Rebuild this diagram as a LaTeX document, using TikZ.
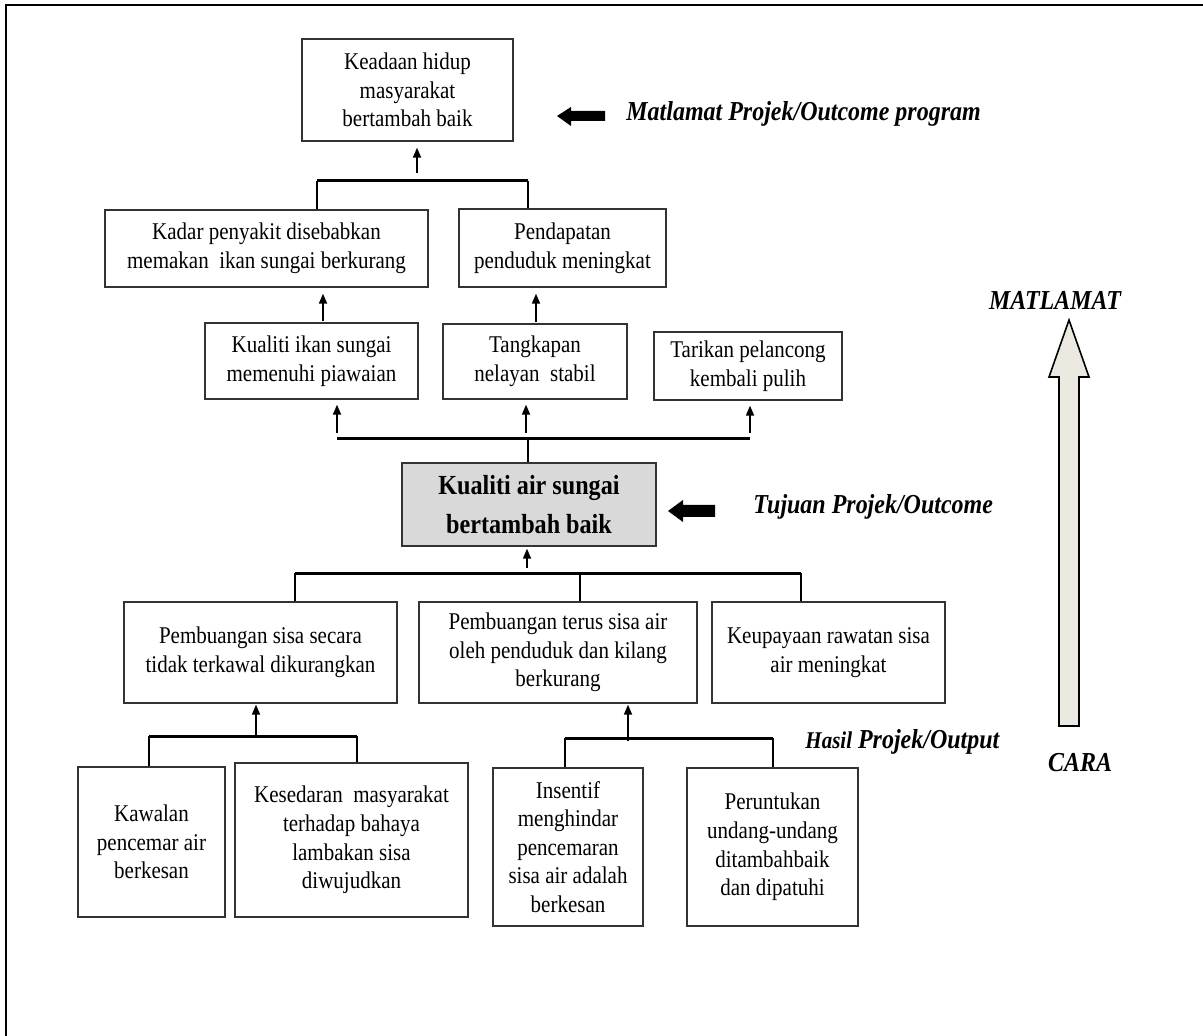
\documentclass[tikz,border=0pt]{standalone}
\usepackage{fontspec}
\setmainfont{Liberation Serif}[FakeStretch=0.875]
\usetikzlibrary{arrows.meta}
\begin{document}
\begin{tikzpicture}[x=0.5pt,y=-0.5pt,
  box/.style={draw=black!80, line width=0.65pt, align=center, inner sep=2pt,
              font=\fontsize{12}{14.3}\selectfont},
  core/.style={box, fill=black!15, font=\fontsize{13.8}{19.5}\selectfont\bfseries},
  link/.style={line width=0.85pt, -{Triangle[length=5pt,width=4pt]}},
  bar/.style={line width=1.5pt},
  leg/.style={line width=1pt},
  tag/.style={font=\fontsize{13.7}{15}\selectfont\bfseries\itshape, inner sep=0pt},
  blockfill/.style={fill=black},
  bigarrow/.style={draw=black, line width=0.8pt, fill={rgb,255:red,236;green,234;blue,224}},
]
\useasboundingbox (0,0) rectangle (1203,1036);

% frame
\draw[line width=1.1pt] (6,1036) -- (6,5) -- (1203,5);

% ---- goal level
\node[box, minimum width=105.5pt, minimum height=51pt] (goal) at (407.5,90)
  {Keadaan hidup\\masyarakat\\bertambah baik};
\node[box, minimum width=161.5pt, minimum height=38.5pt] (kadar) at (266.5,248.5)
  {Kadar penyakit disebabkan\\memakan\ \ ikan sungai berkurang};
\node[box, minimum width=103.5pt, minimum height=39pt] (pend) at (562.5,248)
  {Pendapatan\\penduduk meningkat};

% ---- intermediate results
\node[box, minimum width=106.5pt, minimum height=38pt] (kual) at (311.5,361)
  {Kualiti ikan sungai\\memenuhi piawaian};
\node[box, minimum width=92pt, minimum height=37.5pt] (tang) at (535,361.5)
  {Tangkapan\\nelayan\ \ stabil};
\node[box, minimum width=94pt, minimum height=34pt] (tari) at (748,366)
  {Tarikan pelancong\\kembali pulih};

% ---- purpose
\node[core, minimum width=127pt, minimum height=41.5pt] (core) at (529,504.5)
  {Kualiti air sungai\\bertambah baik};

% ---- outputs
\node[box, minimum width=136.5pt, minimum height=50.5pt] (pbs) at (260.5,652.5)
  {Pembuangan sisa secara\\tidak terkawal dikurangkan};
\node[box, minimum width=139pt, minimum height=50.5pt] (pbt) at (558,652.5)
  {Pembuangan terus sisa air\\oleh penduduk dan kilang\\berkurang};
\node[box, minimum width=116.5pt, minimum height=50.5pt] (keup) at (828.5,652.5)
  {Keupayaan rawatan sisa\\air meningkat};

% ---- activities
\node[box, minimum width=73.5pt, minimum height=75pt] (kawal) at (151.5,842)
  {Kawalan\\pencemar air\\berkesan};
\node[box, minimum width=116.5pt, minimum height=77pt] (sedar) at (351.5,840)
  {Kesedaran\ \ masyarakat\\terhadap bahaya\\lambakan sisa\\diwujudkan};
\node[box, minimum width=75pt, minimum height=79pt] (insen) at (568,847)
  {Insentif\\menghindar\\pencemaran\\sisa air adalah\\berkesan};
\node[box, minimum width=85.5pt, minimum height=79pt] (untuk) at (772.5,847)
  {Peruntukan\\undang-undang\\ditambahbaik\\dan dipatuhi};

% ---- connectors: goal level
\coordinate (t1) at (317,181);
\coordinate (t2) at (528,181);
\coordinate (tm) at (417,181);
\draw[bar] (t1) -- (t2);
\draw[leg] (t1) -- (t1 |- kadar.north);
\draw[leg] (t2) -- (t2 |- pend.north);
\draw[link, shorten <=4pt, shorten >=3pt] (tm) -- (tm |- goal.south);

\coordinate (k1) at (323,323);
\coordinate (k2) at (536,323);
\draw[link, shorten <=0.5pt, shorten >=3pt] (k1 |- kual.north) -- (k1 |- kadar.south);
\draw[link, shorten <=0.5pt, shorten >=3pt] (k2 |- tang.north) -- (k2 |- pend.south);

% ---- connectors: purpose to intermediate results
\coordinate (r1) at (337,439);
\coordinate (r2) at (526,439);
\coordinate (r3) at (750,439);
\coordinate (rc) at (528,439);
\draw[bar] (r1) -- (r3);
\draw[leg] (rc) -- (rc |- core.north);
\draw[link, shorten <=3pt, shorten >=2.5pt] (r1) -- (r1 |- kual.south);
\draw[link, shorten <=3pt, shorten >=2.5pt] (r2) -- (r2 |- tang.south);
\draw[link, shorten <=3pt, shorten >=2.5pt] (r3) -- (r3 |- tari.south);

% ---- connectors: outputs to purpose
\coordinate (c1) at (295,573);
\coordinate (c2) at (580,573);
\coordinate (c3) at (801,573);
\coordinate (cm) at (527,573);
\draw[bar] (c1) -- (c3);
\draw[leg] (c1) -- (c1 |- pbs.north);
\draw[leg] (c2) -- (c2 |- pbt.north);
\draw[leg] (c3) -- (c3 |- keup.north);
\draw[link, shorten <=2.5pt, shorten >=1pt] (cm) -- (cm |- core.south);

% ---- connectors: activities to outputs
\coordinate (l1) at (149,736);
\coordinate (l2) at (357,736);
\coordinate (lm) at (256,736);
\draw[bar] (l1) -- (l2);
\draw[leg] (l1) -- (l1 |- kawal.north);
\draw[leg] (l2) -- (l2 |- sedar.north);
\draw[link, shorten >=0.5pt] (lm) -- (lm |- pbs.south);

\coordinate (p1) at (565,738);
\coordinate (p2) at (773,738);
\coordinate (pm) at (628,741);
\draw[bar] (p1) -- (p2);
\draw[leg] (p1) -- (p1 |- insen.north);
\draw[leg] (p2) -- (p2 |- untuk.north);
\draw[link, shorten >=0.5pt] (pm) -- (pm |- pbt.south);

% ---- level labels with block arrows
\node[tag, anchor=west] (lblgoal) at (626,114) {Matlamat Projek/Outcome program};
\fill[blockfill] (557,116) -- (571,107) -- (571,111) -- (605,111) -- (605,121)
  -- (571,121) -- (571,126) -- cycle;

\node[tag, anchor=west] (lblcore) at (753,507) {Tujuan Projek/Outcome};
\fill[blockfill] (668,511) -- (683,500) -- (683,505) -- (715,505) -- (715,517)
  -- (683,517) -- (683,522) -- cycle;

\node[tag, anchor=west] (lblout) at (805,742)
  {{\fontsize{12}{13}\selectfont Hasil} Projek/Output};

% ---- direction arrow
\node[tag] (up) at (1055,300) {MATLAMAT};
\node[tag] (down) at (1080,763) {CARA};
\draw[bigarrow] (1069,320) -- (1089,377) -- (1079,377) -- (1079,726) -- (1059,726)
  -- (1059,377) -- (1049,377) -- cycle;

\end{tikzpicture}
\end{document}
